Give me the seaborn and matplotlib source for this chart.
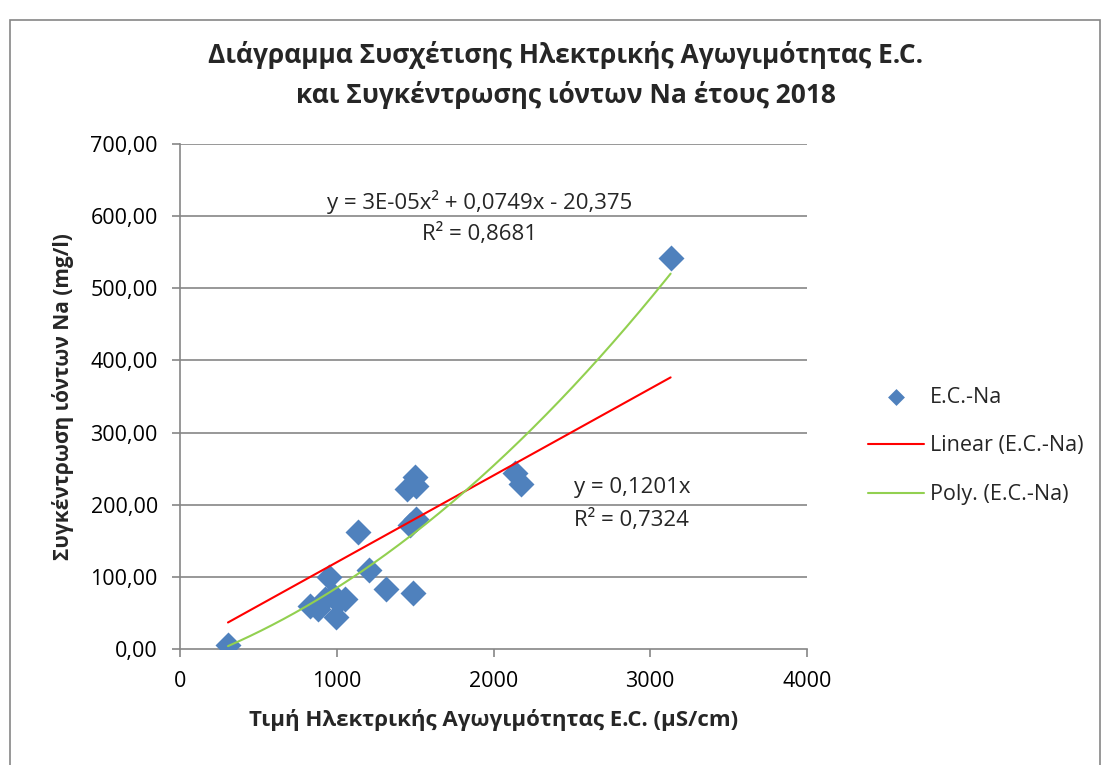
import numpy as np
import pandas as pd
import matplotlib
matplotlib.use("Agg")
import matplotlib.pyplot as plt
import seaborn as sns

# ---- data ----
ec_values = [306, 829, 882, 925, 953, 975, 995, 1005, 1055, 1136, 1206, 1312,
             1446, 1470, 1487, 1499, 1505, 1506, 2137, 2173, 3130]
na_values = [6, 59, 55, 70, 100, 75, 45, 65, 70, 162, 109, 83,
             222, 172, 77, 239, 180, 226, 244, 229, 542]
x_ticks = [0, 1000, 2000, 3000, 4000]
y_ticks = [0, 100, 200, 300, 400, 500, 600, 700]
series_name = "E.C.-Na"
linear_name = "Linear (E.C.-Na)"
poly_name = "Poly. (E.C.-Na)"
poly_eq = "y = 3E-05x² + 0,0749x - 20,375"
poly_r2 = "R² = 0,8681"
lin_eq = "y = 0,1201x"
lin_r2 = "R² = 0,7324"
title = "Διάγραμμα Συσχέτισης Ηλεκτρικής Αγωγιμότητας E.C.\nκαι Συγκέντρωσης ιόντων Na έτους 2018"
xlabel = "Τιμή Ηλεκτρικής Αγωγιμότητας E.C. (μS/cm)"
ylabel = "Συγκέντρωση ιόντων Na (mg/l)"

sns.set_theme(style="white")
plt.rcParams['font.family'] = ['Open Sans', 'DejaVu Sans']

df = pd.DataFrame({"ec": ec_values, "na": na_values})
x = np.array(ec_values, dtype=float)
y = np.array(na_values, dtype=float)

# trendlines fitted from the data
slope = np.sum(x * y) / np.sum(x * x)
pc = np.polyfit(x, y, 2)
xs = np.linspace(x.min(), x.max(), 200)
lin_df = pd.DataFrame({"ec": xs, "na": slope * xs})
poly_df = pd.DataFrame({"ec": xs, "na": np.polyval(pc, xs)})

fig = plt.figure(figsize=(11.12, 7.65), dpi=100)
ax = fig.add_axes([0.1619, 0.1516, 0.5638, 0.6602])

grid_c = "#868686"
for yt in y_ticks[1:]:
    ax.axhline(yt, color=grid_c, lw=1.2, zorder=0)

sns.scatterplot(data=df, x="ec", y="na", marker="D", s=175, color="#4F81BD",
                edgecolor="#4F81BD", linewidth=0, ax=ax, label=series_name, zorder=3)
sns.lineplot(data=lin_df, x="ec", y="na", color="#FF0000", lw=1.5, ax=ax,
             label=linear_name, zorder=4)
sns.lineplot(data=poly_df, x="ec", y="na", color="#92D050", lw=1.5, ax=ax,
             label=poly_name, zorder=4)

ax.set_xlim(0, 4000)
ax.set_ylim(0, 700)
ax.set_xticks(x_ticks)
ax.set_xticklabels([str(t) for t in x_ticks])
ax.set_yticks(y_ticks)
ax.set_yticklabels([f"{t},00" for t in y_ticks])
ax.tick_params(axis='both', labelsize=15.5, colors="black", length=6, width=1.2,
               direction='out', color=grid_c, bottom=True, left=True)
ax.tick_params(axis='x', pad=10)
ax.tick_params(axis='y', pad=10)
for side in ["top", "right"]:
    ax.spines[side].set_visible(False)
for side in ["left", "bottom"]:
    ax.spines[side].set_color(grid_c)
    ax.spines[side].set_linewidth(1.2)

ax.set_xlabel(xlabel, fontsize=16, fontweight='bold', labelpad=12)
ax.set_ylabel(ylabel, fontsize=15, fontweight='bold', labelpad=12)

fig.text(0.509, 0.902, title, ha='center', va='center', fontsize=19,
         fontweight='bold', linespacing=1.55)

ax.text(480 / 1112, 1 - 202 / 765, poly_eq, transform=fig.transFigure,
        ha='center', va='center', fontsize=16)
ax.text(480 / 1112, 1 - 234 / 765, poly_r2, transform=fig.transFigure,
        ha='center', va='center', fontsize=16)
ax.text(574 / 1112, 1 - 488 / 765, lin_eq, transform=fig.transFigure,
        ha='left', va='center', fontsize=16)
ax.text(574 / 1112, 1 - 520 / 765, lin_r2, transform=fig.transFigure,
        ha='left', va='center', fontsize=16)

leg = ax.legend(loc='center left', bbox_to_anchor=(1.066, 0.402), frameon=False,
                fontsize=15.5, labelspacing=1.3, handlelength=2.6,
                handletextpad=0.3, markerscale=0.65)

# chart border
border = plt.Rectangle((10 / 1112, -0.1), 1090 / 1112, 1.1 - 20 / 765,
                       transform=fig.transFigure, fill=False,
                       edgecolor="#868686", lw=1.2)
fig.patches.append(border)

fig.savefig("out.png", dpi=100, facecolor="white")
